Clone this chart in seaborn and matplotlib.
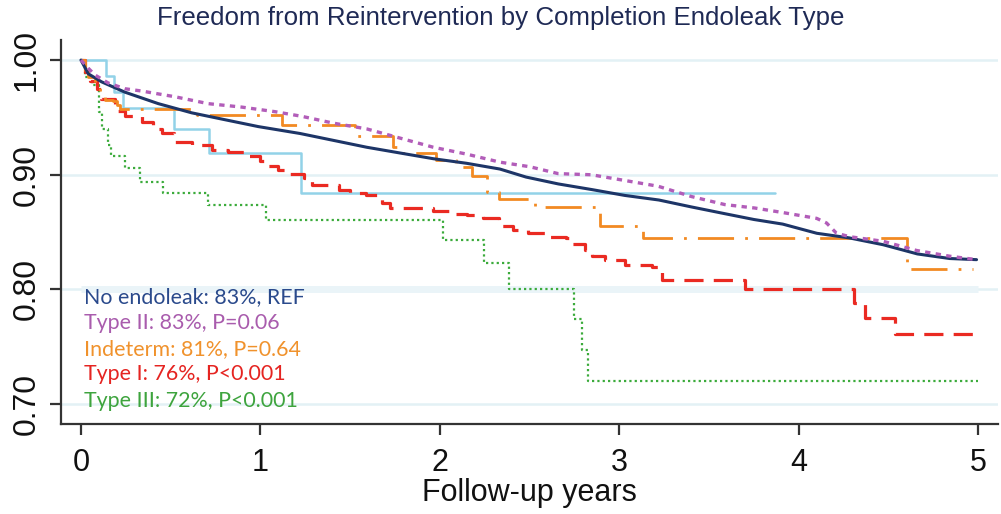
import numpy as np
import pandas as pd
import matplotlib
matplotlib.use("Agg")
import matplotlib.pyplot as plt
import seaborn as sns

# ---------------- data ----------------
navy_t = [0, 0.041, 0.115, 0.245, 0.431, 0.617, 0.802, 0.988, 1.22, 1.406, 1.592, 1.777,
          1.963, 2.149, 2.334, 2.48, 2.66, 2.85, 3.03, 3.22, 3.40, 3.59, 3.75, 3.91, 4.10,
          4.28, 4.47, 4.66, 4.84, 4.99]
navy_s = [1.0, 0.988, 0.981, 0.972, 0.962, 0.954, 0.948, 0.942, 0.936, 0.930, 0.924, 0.919,
          0.914, 0.910, 0.905, 0.898, 0.892, 0.887, 0.882, 0.878, 0.872, 0.866, 0.861, 0.857,
          0.849, 0.845, 0.839, 0.831, 0.827, 0.826]

purple_t = [0, 0.04, 0.078, 0.152, 0.245, 0.338, 0.524, 0.709, 0.895, 1.081, 1.229, 1.406,
            1.592, 1.777, 1.963, 2.149, 2.334, 2.501, 2.659, 2.845, 3.031, 3.216, 3.402,
            3.588, 3.755, 3.913, 4.099, 4.154, 4.21, 4.284, 4.47, 4.656, 4.841, 4.99]
purple_s = [1.0, 0.993, 0.987, 0.980, 0.975, 0.973, 0.968, 0.962, 0.959, 0.955, 0.951, 0.945,
            0.940, 0.932, 0.924, 0.918, 0.911, 0.907, 0.901, 0.900, 0.895, 0.890, 0.881,
            0.874, 0.871, 0.867, 0.862, 0.858, 0.849, 0.846, 0.842, 0.834, 0.829, 0.826]

orange_t = [0, 0.02, 0.04, 0.08, 0.106, 0.134, 0.18, 0.20, 0.217, 0.645, 1.118, 1.526, 1.74,
            1.777, 1.98, 2.09, 2.18, 2.26, 2.33, 2.53, 2.89, 3.13, 4.60, 4.97]
orange_s = [1.0, 0.991, 0.985, 0.980, 0.968, 0.965, 0.964, 0.961, 0.957, 0.952, 0.943, 0.934,
            0.924, 0.919, 0.913, 0.907, 0.899, 0.885, 0.879, 0.872, 0.855, 0.845, 0.818, 0.818]

red_t = [0, 0.02, 0.05, 0.09, 0.11, 0.19, 0.245, 0.34, 0.40, 0.45, 0.52, 0.62, 0.73, 0.82,
         0.93, 1.00, 1.04, 1.10, 1.155, 1.24, 1.29, 1.44, 1.50, 1.59, 1.68, 1.72, 1.96, 2.07,
         2.15, 2.24, 2.33, 2.41, 2.49, 2.59, 2.70, 2.73, 2.81, 2.845, 2.92, 3.03, 3.18, 3.235,
         3.70, 4.31, 4.37, 4.535, 5.0]
red_s = [1.0, 0.990, 0.982, 0.975, 0.966, 0.956, 0.951, 0.946, 0.940, 0.936, 0.929, 0.926,
         0.922, 0.920, 0.916, 0.912, 0.908, 0.904, 0.901, 0.897, 0.891, 0.887, 0.884, 0.882,
         0.875, 0.871, 0.868, 0.866, 0.865, 0.862, 0.855, 0.852, 0.849, 0.846, 0.845, 0.840,
         0.834, 0.829, 0.826, 0.821, 0.820, 0.808, 0.800, 0.788, 0.775, 0.761, 0.761]

green_t = [0, 0.02, 0.06, 0.10, 0.12, 0.15, 0.17, 0.245, 0.33, 0.455, 0.71, 1.03, 2.02,
           2.247, 2.386, 2.748, 2.79, 2.826, 5.0]
green_s = [1.0, 0.985, 0.978, 0.955, 0.940, 0.926, 0.916, 0.906, 0.894, 0.884, 0.874, 0.861,
           0.843, 0.823, 0.800, 0.774, 0.747, 0.720, 0.720]

lblue_t = [0, 0.138, 0.186, 0.236, 0.516, 0.713, 1.224, 3.866]
lblue_s = [1.0, 0.986, 0.972, 0.958, 0.940, 0.919, 0.884, 0.884]

legend_labels = ["No endoleak: 83%, REF", "Type II: 83%, P=0.06", "Indeterm: 81%, P=0.64",
                 "Type I: 76%, P<0.001", "Type III: 72%, P<0.001"]
x_ticks = [0, 1, 2, 3, 4, 5]
y_ticks = [0.70, 0.80, 0.90, 1.00]
title = "Freedom from Reintervention by Completion Endoleak Type"
xlabel = "Follow-up years"

# ---------------- styling ----------------
sns.set_theme(style="white")
plt.rcParams['font.family'] = ['Liberation Sans', 'DejaVu Sans']

NAVY = "#1d3567"
PURPLE = "#b25db9"
ORANGE = "#f28a22"
RED = "#ea2a22"
GREEN = "#3bab3b"
LBLUE = "#92d2e8"
GRID = "#e3f1f5"

fig = plt.figure(figsize=(10.01, 5.14), dpi=100)
ax = fig.add_axes([0.0609, 0.175, 0.936, 0.747])

ax.set_xlim(-0.1114, 5.109)
ax.set_ylim(0.6827, 1.0174)

for yv in y_ticks:
    ax.axhline(yv, color=GRID, lw=1.8, zorder=0)
ax.hlines(0.80, 0.0, 5.0, color="#eaf4f8", lw=5, zorder=0)

def draw(t, s, color, lw, ls, steps):
    df = pd.DataFrame({"t": t, "s": s})
    kw = dict(drawstyle="steps-post") if steps else {}
    sns.lineplot(data=df, x="t", y="s", ax=ax, color=color, lw=lw, estimator=None,
                 sort=False, linestyle=ls, **kw)

draw(lblue_t, lblue_s, LBLUE, 1.8, "-", True)
draw(green_t, green_s, GREEN, 1.6, (0, (1.0, 1.4)), True)
draw(red_t, red_s, RED, 2.3, (0, (6, 3.2)), True)
draw(orange_t, orange_s, ORANGE, 2.0, (0, (13, 4, 1, 4)), True)
draw(navy_t, navy_s, NAVY, 2.2, "-", False)
draw(purple_t, purple_s, PURPLE, 2.4, (0, (1.6, 1.6)), False)

leg_colors = ["#2a4a8c", "#a95cad", "#f0922c", "#e52421", "#3ea43e"]
leg_y = [0.7936, 0.7707, 0.748, 0.726, 0.703]
for lab, c, yy in zip(legend_labels, leg_colors, leg_y):
    ax.text(0.017, yy, lab, color=c, fontsize=15.4, va="center", ha="left",
            family=["Lato", "DejaVu Sans"])

ax.set_xticks(x_ticks)
ax.set_xticklabels([str(v) for v in x_ticks], fontsize=22, color="#111111")
ax.set_yticks(y_ticks)
ax.set_yticklabels([f"{v:.2f}" for v in y_ticks], fontsize=23, rotation=90, va="center",
                   color="#111111")
ax.tick_params(axis="both", direction="out", length=8, width=1.6, color="#333333",
               bottom=True, left=True)
ax.tick_params(axis="x", pad=9)
ax.tick_params(axis="y", pad=6)

for side in ["top", "right"]:
    ax.spines[side].set_visible(False)
for side in ["left", "bottom"]:
    ax.spines[side].set_color("#333333")
    ax.spines[side].set_linewidth(1.6)

ax.set_xlabel(xlabel, fontsize=22, color="#111111", labelpad=0)
ax.set_ylabel("")
fig.text(0.5, 0.965, title, ha="center", va="center", fontsize=18.6, color="#1f2a55")

fig.savefig("out.png", dpi=100)
